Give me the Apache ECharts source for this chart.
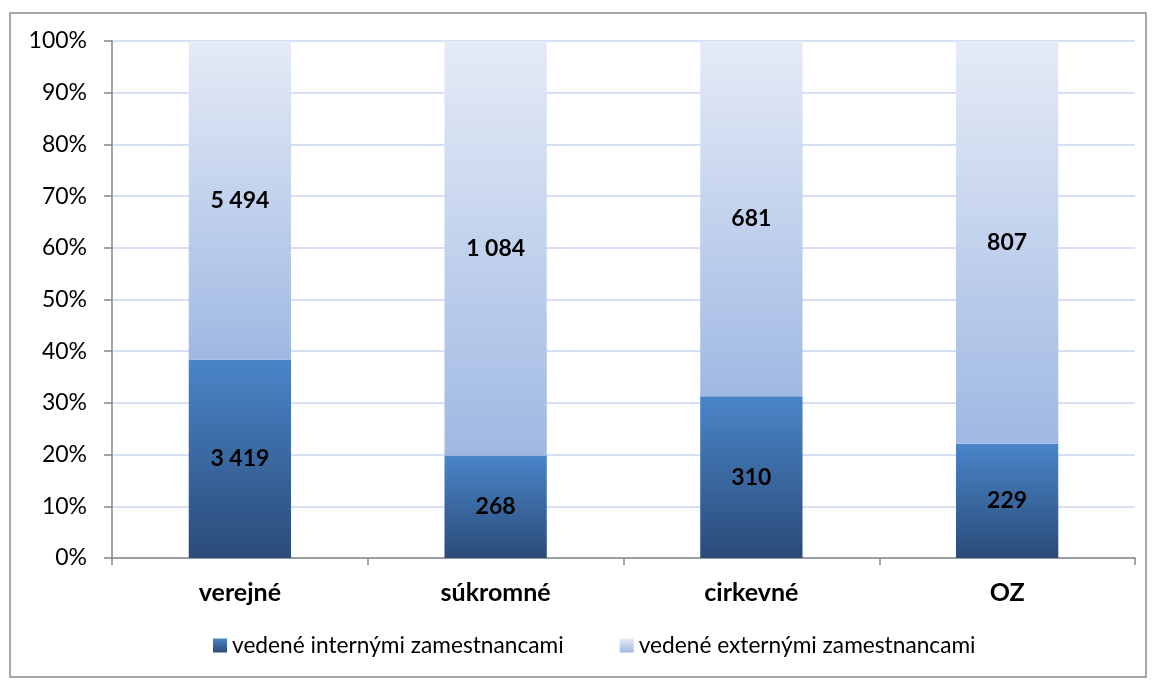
<!DOCTYPE html>
<html><head><meta charset="utf-8">
<script src="https://cdn.jsdelivr.net/npm/echarts@6/dist/echarts.min.js"></script>
<style>html,body{margin:0;padding:0;background:#fff}#c{width:1154px;height:680px}</style>
</head><body><div id="c"></div>
<script>
const categories = ['verejné', 'súkromné', 'cirkevné', 'OZ'];
const internal = [3419, 268, 310, 229];
const external = [5494, 1084, 681, 807];
const seriesNames = ['vedené internými zamestnancami', 'vedené externými zamestnancami'];
const yTicks = [0, 10, 20, 30, 40, 50, 60, 70, 80, 90, 100];

const fmt = n => String(n).replace(/\B(?=(\d{3})+(?!\d))/g, ' ');
const pct = (a, i) => a[i] / (internal[i] + external[i]) * 100;

const chart = echarts.init(document.getElementById('c'));
const font = 'Lato, "Open Sans", sans-serif';
const gradInt = new echarts.graphic.LinearGradient(0, 0, 0, 1, [
  {offset: 0, color: '#4a85c8'}, {offset: 1, color: '#2a4b79'}]);
const gradExt = new echarts.graphic.LinearGradient(0, 0, 0, 1, [
  {offset: 0, color: '#e5ebf6'}, {offset: 1, color: '#9fb8e3'}]);
const label = {
  show: true, position: 'inside', color: '#000', fontWeight: 'bold',
  fontSize: 23, fontFamily: font
};
chart.setOption({
  animation: false,
  graphic: [{type: 'rect', shape: {x: 10, y: 13, width: 1136, height: 664},
    style: {fill: 'none', stroke: '#8a8a8a', lineWidth: 1.5}, silent: true}],
  grid: {left: 112, right: 19, top: 41, bottom: 122},
  legend: {
    bottom: 18, left: 208, itemWidth: 14, itemHeight: 14, itemGap: 56,
    icon: 'rect',
    textStyle: {fontSize: 22.7, fontFamily: font, color: '#000', padding: [0, 0, 0, 0]},
    data: seriesNames
  },
  xAxis: {
    type: 'category', data: categories,
    axisLine: {lineStyle: {color: '#868686', width: 1.5}},
    axisTick: {show: true, length: 7, lineStyle: {color: '#868686', width: 1.5}},
    axisLabel: {color: '#000', fontWeight: 'bold', fontSize: 25, fontFamily: font, margin: 22}
  },
  yAxis: {
    type: 'value', min: yTicks[0], max: yTicks[yTicks.length - 1], interval: 10,
    axisLine: {show: true, lineStyle: {color: '#868686', width: 1.5}},
    axisTick: {show: true, length: 8, lineStyle: {color: '#868686', width: 1.5}},
    axisLabel: {formatter: '{value}%', color: '#000', fontSize: 23, fontFamily: font, margin: 25},
    splitLine: {lineStyle: {color: '#c8d6ee', width: 1.5}}
  },
  series: [
    {name: seriesNames[0], type: 'bar', stack: 's', barWidth: '40%',
     itemStyle: {color: gradInt},
     label: Object.assign({}, label, {formatter: p => fmt(internal[p.dataIndex])}),
     data: categories.map((c, i) => pct(internal, i))},
    {name: seriesNames[1], type: 'bar', stack: 's', barWidth: '40%',
     itemStyle: {color: gradExt},
     label: Object.assign({}, label, {formatter: p => fmt(external[p.dataIndex])}),
     data: categories.map((c, i) => pct(external, i))}
  ]
});
</script></body></html>
